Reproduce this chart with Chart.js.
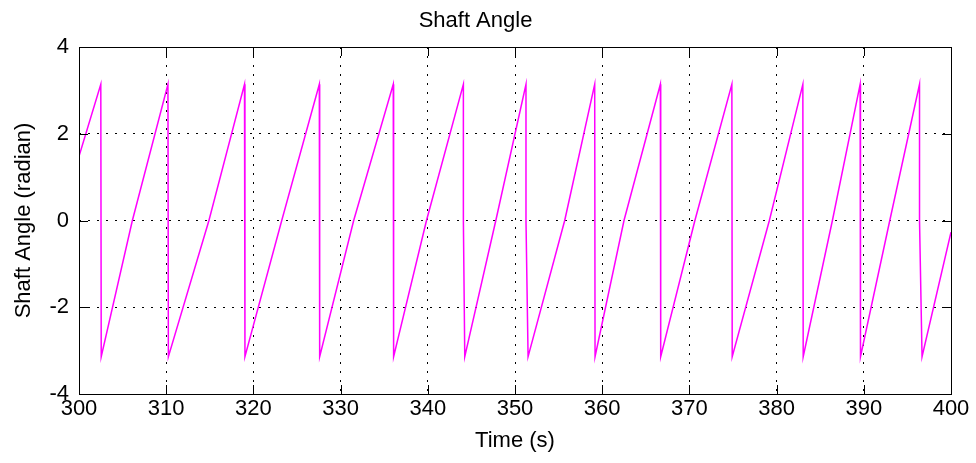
<!DOCTYPE html>
<html lang="en">
<head>
    <meta charset="UTF-8">
    <title>Shaft Angle</title>
    <script src="https://cdn.jsdelivr.net/npm/chart.js"></script>
    <style>
        html, body { margin: 0; padding: 0; background: #fff; }
        .chart-box { width: 976px; height: 463px; }
    </style>
</head>
<body>
    <div class="chart-box"><canvas id="shaftChart"></canvas></div>

    <script>
        // Czas (s) i kat walu (rad)
        const timeValues = [
            300, 302.5, 302.55,
            306.12, 310.2, 310.25,
            314.9, 318.98, 319.03,
            323.25, 327.56, 327.6,
            331.5, 336.04, 336.08,
            339.85, 344.08, 344.08, 344.24,
            347.8, 351.26, 351.26, 351.5,
            355.7, 359.14, 359.18,
            362.5, 366.67, 366.71,
            370.63, 374.87, 374.91,
            379.17, 383.01, 383.05,
            386.4, 389.58, 389.62,
            392.98, 396.39, 396.39, 396.68,
            400
        ];
        const angleValues = [
            1.48, 3.14, -3.14,
            0, 3.14, -3.14,
            0, 3.14, -3.14,
            0, 3.14, -3.14,
            0, 3.14, -3.14,
            0, 3.14, 0, -3.14,
            0, 3.14, 0, -3.14,
            0, 3.14, -3.14,
            0, 3.14, -3.14,
            0, 3.14, -3.14,
            0, 3.14, -3.14,
            0, 3.14, -3.14,
            0, 3.14, 0, -3.14,
            -0.27
        ];

        const FONT = '"Liberation Sans", Arial, sans-serif';

        // Male kreski podzialki do srodka ramki (jak w MATLAB)
        const innerTicks = {
            id: 'innerTicks',
            afterDraw(chart) {
                const { ctx, chartArea: a, scales } = chart;
                const len = 9;
                ctx.save();
                ctx.strokeStyle = '#000';
                ctx.lineWidth = 1;
                ctx.beginPath();
                scales.x.ticks.forEach(t => {
                    const x = Math.round(scales.x.getPixelForValue(t.value)) + 0.5;
                    ctx.moveTo(x, a.bottom); ctx.lineTo(x, a.bottom - len);
                    ctx.moveTo(x, a.top); ctx.lineTo(x, a.top + len);
                });
                scales.y.ticks.forEach(t => {
                    const y = Math.round(scales.y.getPixelForValue(t.value)) + 0.5;
                    ctx.moveTo(a.left, y); ctx.lineTo(a.left + len, y);
                    ctx.moveTo(a.right, y); ctx.lineTo(a.right - len, y);
                });
                ctx.stroke();
                ctx.strokeRect(Math.round(a.left) + 0.5, Math.round(a.top) + 0.5,
                    Math.round(a.right - a.left), Math.round(a.bottom - a.top));
                ctx.restore();
            }
        };

        new Chart(document.getElementById('shaftChart').getContext('2d'), {
            type: 'line',
            data: {
                datasets: [{
                    label: 'Shaft Angle',
                    data: timeValues.map((t, i) => ({ x: t, y: angleValues[i] })),
                    borderColor: '#ff00ff',
                    borderWidth: 1.5,
                    pointRadius: 0,
                    tension: 0,
                    fill: false
                }]
            },
            options: {
                responsive: true,
                maintainAspectRatio: false,
                animation: false,
                layout: { padding: { left: 0, right: 25, top: 0, bottom: 0 } },
                plugins: {
                    legend: { display: false },
                    tooltip: { enabled: false },
                    title: {
                        display: true,
                        text: 'Shaft Angle',
                        color: '#000',
                        font: { family: FONT, size: 22, weight: 'normal' },
                        padding: { top: 8, bottom: 12.6 }
                    }
                },
                scales: {
                    x: {
                        type: 'linear',
                        min: 300,
                        max: 400,
                        ticks: {
                            stepSize: 10,
                            color: '#000',
                            padding: 2,
                            maxRotation: 0,
                            font: { family: FONT, size: 22 }
                        },
                        grid: {
                            color: '#000',
                            lineWidth: 1,
                            tickLength: 0,
                            drawTicks: false
                        },
                        border: { display: false, dash: [2, 7] },
                        title: {
                            display: true,
                            text: 'Time (s)',
                            color: '#000',
                            font: { family: FONT, size: 22 },
                            padding: { top: 0, bottom: 8.8 }
                        },
                        afterFit(scale) { scale.height = 69; }
                    },
                    y: {
                        min: -4,
                        max: 4,
                        ticks: {
                            stepSize: 2,
                            color: '#000',
                            padding: 10,
                            font: { family: FONT, size: 22 }
                        },
                        grid: {
                            color: '#000',
                            lineWidth: 1,
                            tickLength: 0,
                            drawTicks: false
                        },
                        border: { display: false, dash: [2, 7] },
                        title: {
                            display: true,
                            text: 'Shaft Angle (radian)',
                            color: '#000',
                            font: { family: FONT, size: 22 },
                            padding: { top: 11, bottom: 0 }
                        },
                        afterFit(scale) { scale.width = 79; }
                    }
                }
            },
            plugins: [innerTicks]
        });
    </script>
</body>
</html>
